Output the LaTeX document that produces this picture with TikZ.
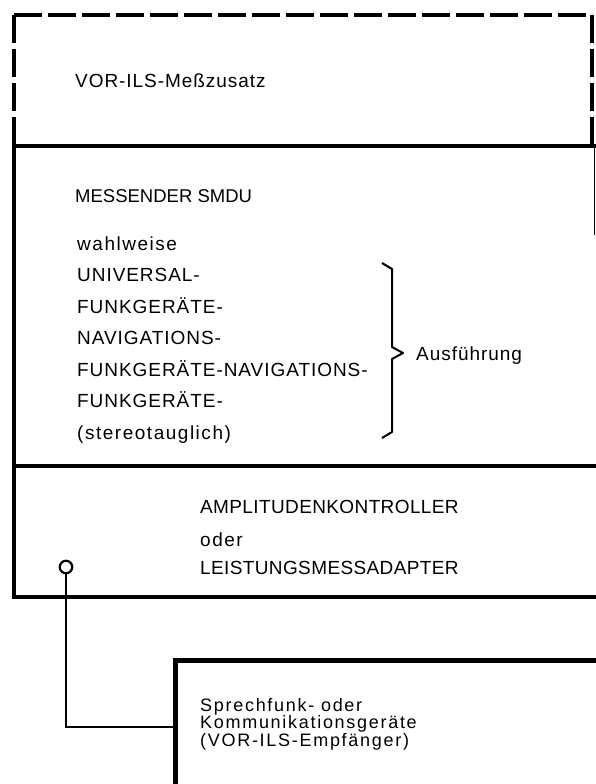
\documentclass[tikz,border=0pt]{standalone}
\usepackage{fontspec}
\setmainfont{Liberation Sans}
\newfontfamily\plainfont{Liberation Sans}
\newfontfamily\capsfont[LetterSpace=2]{Liberation Sans}
\newfontfamily\listfont[LetterSpace=5]{Liberation Sans}
\newfontfamily\lowfont[LetterSpace=8]{Liberation Sans}
\newfontfamily\devfont[LetterSpace=9.5]{Liberation Sans}
\begin{document}
\begin{tikzpicture}[x=1pt,y=-1pt,
  frame/.style={line width=4.5pt},
  dashframe/.style={line width=4pt, dash pattern=on 28pt off 6pt},
  lbl/.style={anchor=base west, inner sep=0pt, font=\fontsize{19}{23}\selectfont\capsfont},
  lst/.style={lbl, font=\fontsize{19}{23}\selectfont\listfont},
  lowlbl/.style={lbl, font=\fontsize{19}{23}\selectfont\lowfont},
  devlbl/.style={anchor=north west, inner sep=0pt, align=left, font=\fontsize{18}{16}\selectfont\devfont},
  port/.style={circle, draw, line width=2.2pt, minimum size=12.5pt, inner sep=0pt},
  wire/.style={line width=1.3pt}]
\useasboundingbox (0,0) rectangle (595,784);
% dashed frame (VOR-ILS-Messzusatz)
\draw[dashframe] (14,15) -- (592,15);
\draw[dashframe] (14,15) -- (14,146);
\draw[dashframe] (592,15) -- (592,146);
% solid frames
\draw[frame] (597,146) -- (14,146) -- (14,597) -- (597,597);
\draw[frame] (14,466) -- (597,466);
\draw[line width=0.8pt] (594.3,146) -- (594.3,235);
% bottom device frame
\draw[frame] (597,660.5) -- (175.5,660.5) -- (175.5,788);
% texts
\node[lst] (vor) at (75,88) {VOR-ILS-Meßzusatz};
\node[lbl, font=\fontsize{18.5}{23}\selectfont\plainfont] (smdu) at (75,202) {MESSENDER SMDU};
\node[lowlbl] (l1) at (77,250) {wahlweise};
\node[lst] (l2) at (77,281.5) {UNIVERSAL-};
\node[lst] (l3) at (77,313) {FUNKGERÄTE-};
\node[lst] (l4) at (77,344.5) {NAVIGATIONS-};
\node[lst] (l5) at (77,376) {FUNKGERÄTE-NAVIGATIONS-};
\node[lst] (l6) at (77,407.5) {FUNKGERÄTE-};
\node[lowlbl] (l7) at (77,439) {(stereotauglich)};
\draw[line width=2pt, line join=round] (382,263) -- (392,269) -- (392,347) -- (403,353) -- (392,359) -- (392,432) -- (382,438);
\node[lst] (ausf) at (416,360) {Ausführung};
\node[lbl] (amp) at (200,513) {AMPLITUDENKONTROLLER};
\node[lowlbl] (oder) at (200,546) {oder};
\node[lbl] (leist) at (200,574) {LEISTUNGSMESSADAPTER};
\node[devlbl] (dev) at (200,697.9) {Sprechfunk- oder\\Kommunikationsgeräte\\(VOR-ILS-Empfänger)};
% connector
\node[port] (p) at (66,567) {};
\coordinate (devin) at (173,727);
\draw[wire] (p.south) |- (devin);
\end{tikzpicture}
\end{document}
